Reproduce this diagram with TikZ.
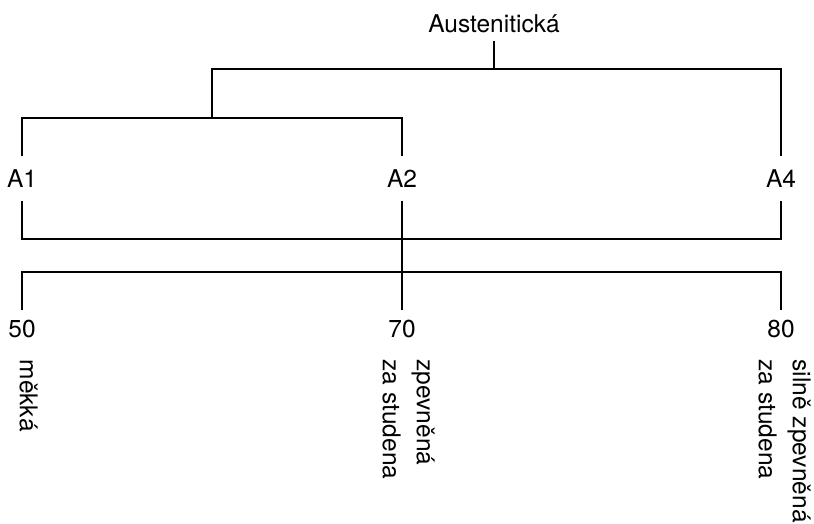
\documentclass[tikz,border=0pt]{standalone}
\usepackage{fontspec}
\setmainfont{TeX Gyre Heros}
\begin{document}
\begin{tikzpicture}[x=1pt,y=-1pt,line width=1.2pt,
  lbl/.style={font=\fontsize{24.5}{30}\selectfont, inner sep=0pt},
  rot/.style={font=\fontsize{24.5}{34}\selectfont, inner sep=0pt, rotate=-90, anchor=south west, align=left}]
\useasboundingbox (0,0) rectangle (814,523);
% top labels
\node[lbl, minimum height=32pt] (aus) at (494,24) {Austenitická};
\node[lbl, minimum height=43pt] (a1) at (22,178.5) {A1};
\node[lbl, minimum height=43pt] (a2) at (402,178.5) {A2};
\node[lbl, minimum height=43pt] (a4) at (781,178.5) {A4};
\node[lbl, minimum height=36pt] (n50) at (22,329) {50};
\node[lbl, minimum height=36pt] (n70) at (402,329) {70};
\node[lbl, minimum height=36pt] (n80) at (781,329) {80};
% rotated descriptions
\node[rot] (t50) at (19,359) {měkká};
\node[rot] (t70) at (382,359) {zpevněná\\za studena};
\node[rot] (t80) at (758,359) {silně zpevněná\\za studena};
% junction coordinates
\coordinate (t0) at (494,69);
\coordinate (m0) at (212,118);
\coordinate (b1) at (402,239);
\coordinate (b2) at (402,272);
% connectors
\draw (aus.south) -- (t0);
\draw (m0) |- (t0) -| (a4.north);
\draw (a1.north) |- (m0) -| (a2.north);
\draw (a1.south) |- (b1) -| (a4.south);
\draw (a2.south) -- (n70.north);
\draw (n50.north) |- (b2) -| (n80.north);
\end{tikzpicture}
\end{document}
